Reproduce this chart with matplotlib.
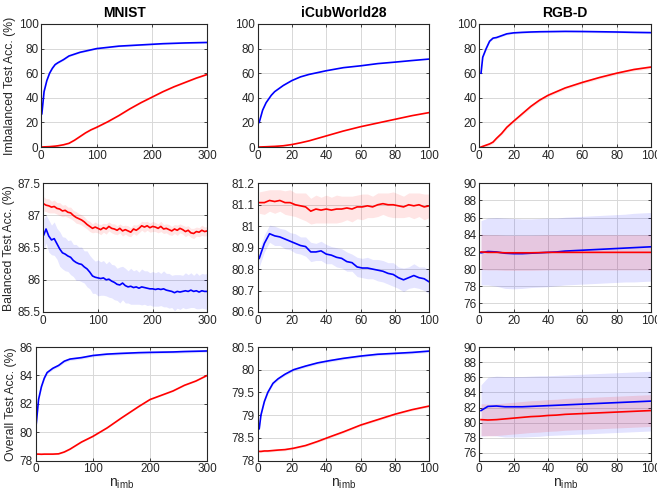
import numpy as np
import matplotlib
matplotlib.use("Agg")
import matplotlib.pyplot as plt
from matplotlib.ticker import FuncFormatter

plt.rcParams['font.family'] = ['Liberation Sans', 'DejaVu Sans']

BLUE = '#0000ff'
RED = '#ff0000'

# ---------------- row 1: imbalanced test accuracy ----------------
mn_x1 = [1, 5, 10, 15, 20, 25, 30, 40, 50, 60, 70, 80, 90, 100, 120, 140, 160, 180, 200, 220, 240, 260, 280, 300]
mn_imb_blue = [27, 45, 54, 60, 64, 67, 68.5, 71, 74, 75.5, 77, 78, 79, 80, 81, 82, 82.5, 83, 83.5, 84, 84.3, 84.6, 84.8, 85]
mn_imb_red = [0, 0.1, 0.2, 0.3, 0.5, 0.7, 1, 1.8, 3, 5.5, 8.5, 11.5, 14, 16, 20.5, 25.5, 31, 36, 40.5, 45, 49, 52.5, 56, 59]

ic_x1 = [1, 3, 5, 8, 10, 15, 20, 25, 30, 40, 50, 60, 70, 80, 90, 100]
ic_imb_blue = [20, 30, 36, 42, 45, 50, 54, 57, 59, 62, 64.5, 66, 67.8, 69, 70.3, 71.5]
ic_imb_red = [0, 0.1, 0.2, 0.4, 0.5, 1, 2, 3.4, 5, 9, 13, 16.5, 19.5, 22.5, 25.5, 28]

rg_x1 = [1, 2, 4, 6, 8, 10, 13, 16, 20, 25, 30, 35, 40, 50, 60, 70, 80, 90, 100]
rg_imb_blue = [60, 73, 80, 86, 88.5, 89, 90.5, 92, 92.8, 93.2, 93.5, 93.7, 93.8, 94, 93.9, 93.7, 93.5, 93.2, 93]
rg_imb_red = [0, 0.5, 1.5, 2.5, 4, 7, 11, 16, 21, 27, 33, 38, 42, 48, 52.5, 56.5, 60, 63, 65]

# ---------------- row 2: balanced test accuracy ----------------
mn_x2 = [1, 5, 10, 15, 20, 25, 30, 35, 40, 45, 50, 55, 60, 65, 70, 75, 80, 85, 90, 95,
         100, 105, 110, 115, 120, 125, 130, 135, 140, 145, 150, 155, 160, 165, 170, 175, 180, 185, 190, 195,
         200, 205, 210, 215, 220, 225, 230, 235, 240, 245, 250, 255, 260, 265, 270, 275, 280, 285, 290, 295, 300]
mn_bal_red = [87.18, 87.16, 87.15, 87.13, 87.14, 87.11, 87.10, 87.07, 87.08, 87.05, 87.04, 87.00, 86.97, 86.95, 86.93,
              86.90, 86.86, 86.83, 86.80, 86.82, 86.80, 86.78, 86.81, 86.79, 86.83, 86.80, 86.79, 86.77, 86.80, 86.76,
              86.78, 86.76, 86.74, 86.79, 86.77, 86.80, 86.84, 86.82, 86.84, 86.81, 86.83, 86.82, 86.80, 86.83, 86.79,
              86.80, 86.78, 86.76, 86.79, 86.77, 86.80, 86.78, 86.75, 86.77, 86.73, 86.72, 86.75, 86.74, 86.77, 86.75, 86.76]
mn_bal_red_sd = [0.11, 0.10, 0.11, 0.09, 0.10, 0.09, 0.10, 0.09, 0.09, 0.08, 0.09, 0.08, 0.09, 0.08, 0.08,
                 0.08, 0.07, 0.08, 0.07, 0.08, 0.07, 0.08, 0.07, 0.08, 0.07, 0.07, 0.08, 0.07, 0.07, 0.08,
                 0.07, 0.08, 0.07, 0.07, 0.08, 0.07, 0.07, 0.08, 0.07, 0.07, 0.08, 0.07, 0.07, 0.08, 0.07,
                 0.07, 0.08, 0.07, 0.07, 0.08, 0.07, 0.07, 0.08, 0.07, 0.07, 0.08, 0.07, 0.07, 0.08, 0.07, 0.07]
mn_bal_blue = [86.70, 86.79, 86.68, 86.62, 86.64, 86.56, 86.48, 86.42, 86.40, 86.37, 86.35, 86.30, 86.27, 86.25, 86.24,
               86.20, 86.17, 86.12, 86.06, 86.04, 86.03, 86.02, 86.03, 86.00, 86.01, 85.98, 85.96, 85.93, 85.92, 85.95,
               85.91, 85.89, 85.90, 85.88, 85.89, 85.87, 85.89, 85.88, 85.87, 85.86, 85.86, 85.85, 85.86, 85.85, 85.86,
               85.84, 85.83, 85.82, 85.80, 85.82, 85.81, 85.82, 85.83, 85.82, 85.84, 85.82, 85.83, 85.81, 85.83, 85.82, 85.82]
mn_bal_blue_sd = [0.24, 0.22, 0.25, 0.23, 0.26, 0.24, 0.27, 0.25, 0.26, 0.24, 0.27, 0.25, 0.28, 0.26, 0.27,
                  0.25, 0.28, 0.26, 0.27, 0.25, 0.28, 0.26, 0.27, 0.25, 0.28, 0.26, 0.27, 0.25, 0.28, 0.26,
                  0.27, 0.25, 0.28, 0.26, 0.27, 0.25, 0.28, 0.26, 0.27, 0.25, 0.27, 0.26, 0.27, 0.25, 0.28,
                  0.26, 0.27, 0.25, 0.28, 0.26, 0.27, 0.25, 0.28, 0.26, 0.27, 0.25, 0.28, 0.26, 0.27, 0.27, 0.28]

ic_x2 = [1, 4, 7, 10, 13, 16, 19, 22, 25, 28, 31, 34, 37, 40, 43, 46, 49, 52, 55, 58,
         61, 64, 67, 70, 73, 76, 79, 82, 85, 88, 91, 94, 97, 100]
ic_bal_red = [81.11, 81.11, 81.12, 81.115, 81.12, 81.11, 81.11, 81.10, 81.095, 81.09, 81.07, 81.08, 81.075, 81.08,
              81.075, 81.08, 81.08, 81.085, 81.08, 81.09, 81.09, 81.095, 81.09, 81.10, 81.105, 81.10, 81.10, 81.095,
              81.09, 81.10, 81.095, 81.10, 81.09, 81.095]
ic_bal_red_sd = [0.05, 0.055, 0.05, 0.055, 0.05, 0.055, 0.06, 0.055, 0.06, 0.065, 0.06, 0.065, 0.06, 0.065,
                 0.06, 0.065, 0.06, 0.055, 0.06, 0.055, 0.06, 0.055, 0.05, 0.055, 0.05, 0.055, 0.06, 0.055,
                 0.05, 0.055, 0.06, 0.055, 0.06, 0.055]
ic_bal_blue = [80.85, 80.92, 80.965, 80.955, 80.95, 80.94, 80.93, 80.92, 80.91, 80.905, 80.88, 80.88, 80.885, 80.87,
               80.865, 80.855, 80.85, 80.835, 80.83, 80.81, 80.805, 80.805, 80.80, 80.795, 80.79, 80.78, 80.775, 80.76,
               80.75, 80.76, 80.77, 80.76, 80.755, 80.74]
ic_bal_blue_sd = [0.04, 0.04, 0.04, 0.045, 0.04, 0.045, 0.04, 0.045, 0.04, 0.045, 0.045, 0.04, 0.045, 0.045,
                  0.04, 0.045, 0.045, 0.045, 0.04, 0.045, 0.045, 0.05, 0.045, 0.05, 0.05, 0.05, 0.055, 0.05,
                  0.055, 0.05, 0.055, 0.05, 0.055, 0.055]

rg_x2 = [1, 5, 10, 15, 20, 25, 30, 35, 40, 45, 50, 55, 60, 65, 70, 75, 80, 85, 90, 95, 100]
rg_bal_red = [82.0, 81.95, 81.95, 81.9, 81.9, 81.9, 81.9, 81.92, 81.95, 81.95, 81.95, 81.95, 81.95, 81.95,
              81.95, 81.95, 81.95, 81.95, 81.95, 81.95, 81.95]
rg_bal_red_sd = [2.05, 2.05, 2.05, 2.05, 2.05, 2.05, 2.05, 2.05, 2.05, 2.05, 2.05, 2.05, 2.05, 2.05,
                 2.05, 2.05, 2.05, 2.05, 2.05, 2.05, 2.05]
rg_bal_blue = [81.9, 82.05, 82.0, 81.85, 81.8, 81.8, 81.85, 81.9, 81.95, 82.0, 82.1, 82.15, 82.2, 82.25,
               82.3, 82.35, 82.4, 82.45, 82.5, 82.55, 82.6]
rg_bal_blue_sd = [3.75, 3.9, 4.0, 4.1, 4.1, 4.05, 4.0, 4.0, 4.0, 3.95, 3.95, 3.95, 3.95, 3.95,
                  3.95, 3.95, 3.95, 3.95, 4.0, 4.0, 4.0]

# ---------------- row 3: overall test accuracy ----------------
mn_x3 = [1, 5, 10, 15, 20, 30, 40, 50, 60, 80, 100, 125, 150, 180, 200, 240, 260, 280, 300]
mn_all_blue = [80.6, 82.3, 83.2, 83.8, 84.2, 84.5, 84.7, 85.0, 85.15, 85.25, 85.4, 85.5, 85.55, 85.6,
               85.62, 85.65, 85.68, 85.7, 85.72]
mn_all_red = [78.45, 78.45, 78.44, 78.45, 78.45, 78.45, 78.47, 78.6, 78.8, 79.3, 79.7, 80.3, 81.0, 81.8,
              82.3, 82.9, 83.3, 83.6, 84.0]

ic_x3 = [1, 2, 4, 6, 9, 12, 16, 21, 28, 35, 42, 50, 60, 70, 80, 90, 100]
ic_all_blue = [78.7, 79.0, 79.3, 79.5, 79.7, 79.8, 79.9, 80.0, 80.08, 80.15, 80.2, 80.25, 80.3, 80.34, 80.36, 80.38, 80.41]
ic_all_red = [78.2, 78.2, 78.21, 78.21, 78.22, 78.23, 78.24, 78.27, 78.33, 78.42, 78.52, 78.63, 78.78, 78.9, 79.02, 79.12, 79.2]

rg_x3 = [1, 5, 10, 15, 20, 25, 30, 35, 40, 45, 50, 55, 60, 65, 70, 75, 80, 85, 90, 95, 100]
rg_all_blue = [81.6, 82.15, 82.2, 82.1, 82.1, 82.1, 82.15, 82.2, 82.25, 82.3, 82.35, 82.4, 82.45, 82.5,
               82.55, 82.6, 82.65, 82.7, 82.75, 82.8, 82.85]
rg_all_blue_sd = [3.4, 3.85, 3.95, 4.0, 4.0, 4.0, 4.0, 4.0, 3.95, 3.95, 3.95, 3.95, 3.95, 3.95,
                  3.95, 3.95, 3.95, 3.95, 3.95, 3.95, 3.95]
rg_all_red = [80.4, 80.35, 80.4, 80.5, 80.6, 80.7, 80.8, 80.85, 80.95, 81.0, 81.1, 81.15, 81.2, 81.25,
              81.3, 81.35, 81.4, 81.45, 81.5, 81.55, 81.6]
rg_all_red_sd = [2.1, 2.1, 2.1, 2.1, 2.1, 2.1, 2.1, 2.1, 2.1, 2.1, 2.1, 2.1, 2.1, 2.1,
                 2.1, 2.1, 2.1, 2.1, 2.1, 2.1, 2.1]

titles = ['MNIST', 'iCubWorld28', 'RGB-D']
ylabels = ['Imbalanced Test Acc. (%)', 'Balanced Test Acc. (%)', 'Overall Test Acc. (%)']

# panel layout in pixels (left, right, top, bottom) of the 657x491 figure
W, H = 657, 491
col_lr = [(207.3, 207.3, 207.3), (257.5, 429.3), (479.3, 651.0)]
col1_left = [41.3, 43.3, 35.7]
row_tb = [(24.0, 147.0), (183.3, 312.0), (347.0, 460.5)]

fig = plt.figure(figsize=(W / 100, H / 100), dpi=100)
axes = [[None] * 3 for _ in range(3)]
for r in range(3):
    for c in range(3):
        if c == 0:
            left, right = col1_left[r], col_lr[0][0]
        else:
            left, right = col_lr[c]
        top, bot = row_tb[r]
        ax = fig.add_axes([left / W, 1 - bot / H, (right - left) / W, (bot - top) / H])
        axes[r][c] = ax


def band(ax, x, y, sd, color, alpha):
    x = np.asarray(x, float)
    y = np.asarray(y, float)
    sd = np.asarray(sd, float)
    ax.fill_between(x, y - sd, y + sd, color=color, alpha=alpha, linewidth=0)


def line(ax, x, y, color):
    ax.plot(x, y, color=color, linewidth=1.2)


# row 1
ax = axes[0][0]
band(ax, mn_x1, mn_imb_blue, 0.6, BLUE, 0.1)
band(ax, mn_x1, mn_imb_red, 0.5, RED, 0.1)
line(ax, mn_x1, mn_imb_blue, BLUE)
line(ax, mn_x1, mn_imb_red, RED)
ax = axes[0][1]
line(ax, ic_x1, ic_imb_blue, BLUE)
line(ax, ic_x1, ic_imb_red, RED)
ax = axes[0][2]
band(ax, rg_x1, rg_imb_blue, 0.8, BLUE, 0.1)
band(ax, rg_x1, rg_imb_red, 1.2, RED, 0.1)
line(ax, rg_x1, rg_imb_blue, BLUE)
line(ax, rg_x1, rg_imb_red, RED)

# row 2
ax = axes[1][0]
band(ax, mn_x2, mn_bal_blue, mn_bal_blue_sd, BLUE, 0.1)
band(ax, mn_x2, mn_bal_red, mn_bal_red_sd, RED, 0.1)
line(ax, mn_x2, mn_bal_blue, BLUE)
line(ax, mn_x2, mn_bal_red, RED)
ax = axes[1][1]
band(ax, ic_x2, ic_bal_blue, ic_bal_blue_sd, BLUE, 0.1)
band(ax, ic_x2, ic_bal_red, ic_bal_red_sd, RED, 0.1)
line(ax, ic_x2, ic_bal_blue, BLUE)
line(ax, ic_x2, ic_bal_red, RED)
ax = axes[1][2]
band(ax, rg_x2, rg_bal_blue, rg_bal_blue_sd, BLUE, 0.11)
band(ax, rg_x2, rg_bal_red, rg_bal_red_sd, RED, 0.12)
line(ax, rg_x2, rg_bal_blue, BLUE)
line(ax, rg_x2, rg_bal_red, RED)

# row 3
ax = axes[2][0]
band(ax, mn_x3, mn_all_blue, 0.1, BLUE, 0.1)
band(ax, mn_x3, mn_all_red, 0.04, RED, 0.1)
line(ax, mn_x3, mn_all_blue, BLUE)
line(ax, mn_x3, mn_all_red, RED)
ax = axes[2][1]
band(ax, ic_x3, ic_all_blue, 0.03, BLUE, 0.1)
band(ax, ic_x3, ic_all_red, 0.025, RED, 0.1)
line(ax, ic_x3, ic_all_blue, BLUE)
line(ax, ic_x3, ic_all_red, RED)
ax = axes[2][2]
band(ax, rg_x3, rg_all_blue, rg_all_blue_sd, BLUE, 0.11)
band(ax, rg_x3, rg_all_red, rg_all_red_sd, RED, 0.12)
line(ax, rg_x3, rg_all_blue, BLUE)
line(ax, rg_x3, rg_all_red, RED)

# axis limits and ticks
ylims = [[(0, 100), (0, 100), (0, 100)],
         [(85.5, 87.5), (80.6, 81.2), (75, 90)],
         [(78, 86), (78, 80.5), (75, 90)]]
yticks = [[np.arange(0, 101, 20)] * 3,
          [np.arange(85.5, 87.51, 0.5), np.arange(80.6, 81.21, 0.1), np.arange(76, 90.1, 2)],
          [np.arange(78, 86.1, 2), np.arange(78, 80.51, 0.5), np.arange(76, 90.1, 2)]]

fmt = FuncFormatter(lambda v, p: ('%.4g' % round(v, 4)))
for r in range(3):
    for c in range(3):
        ax = axes[r][c]
        if c == 0:
            ax.set_xlim(0, 300)
            ax.set_xticks([0, 100, 200, 300])
        else:
            ax.set_xlim(0, 100)
            ax.set_xticks([0, 20, 40, 60, 80, 100])
        ax.set_ylim(*ylims[r][c])
        ax.set_yticks(yticks[r][c])
        ax.yaxis.set_major_formatter(fmt)
        ax.grid(True, color='#d8d8d8', linewidth=0.7)
        ax.set_axisbelow(True)
        ax.tick_params(direction='in', length=2.5, width=0.6, top=True, right=True,
                       labelsize=8.5, colors='#262626', pad=2)
        for s in ax.spines.values():
            s.set_color('#262626')
            s.set_linewidth(0.8)
        if r == 0:
            ax.set_title(titles[c], fontsize=10, fontweight='bold', color='black', pad=5)
        if c == 0:
            ax.set_ylabel(ylabels[r], fontsize=8.8, color='#262626', labelpad=2)
        if r == 2:
            ax.set_xlabel('n$_{\\mathregular{imb}}$', fontsize=10, color='#262626', labelpad=1)

fig.savefig('out.png', dpi=100)
